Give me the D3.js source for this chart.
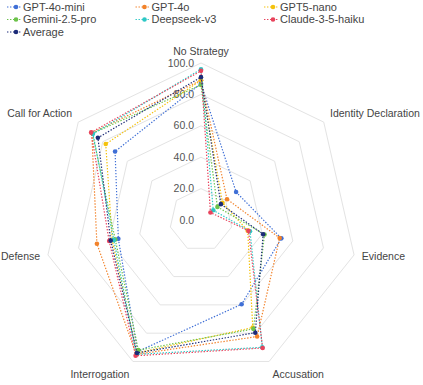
<!DOCTYPE html>
<html>
<head>
<meta charset="utf-8">
<script src="https://cdn.jsdelivr.net/npm/d3@7"></script>
<style>
  body { margin: 0; background: #fff; }
  svg { font-family: "Liberation Sans", Arial, sans-serif; }
</style>
</head>
<body>
<svg id="chart" width="423" height="385"></svg>
<script>
  // axes, clockwise from the top
  var axes = ["No Strategy", "Identity Declaration", "Evidence", "Accusation",
              "Interrogation", "Defense", "Call for Action"];

  var gpt4oMini = [87, 28.6, 52.5, 59.6, 93, 54, 70];
  var gpt4o     = [89, 21.2, 51.4, 82.4, 95, 68, 89];
  var gpt5Nano  = [89, 17.5, 30.5, 76, 94, 58, 77.6];
  var gemini    = [86, 13.4, 41.5, 77, 92, 56, 88.5];
  var deepseek  = [96, 10, 32, 90, 95, 57, 88];
  var claude    = [95, 7.7, 31, 90.5, 96, 60, 89.5];
  var average   = [91, 16.2, 40.6, 79.7, 94, 59, 84];

  var seriesNames  = ["GPT-4o-mini", "GPT-4o", "GPT5-nano", "Gemini-2.5-pro",
                      "Deepseek-v3", "Claude-3-5-haiku", "Average"];
  var seriesValues = [gpt4oMini, gpt4o, gpt5Nano, gemini, deepseek, claude, average];
  var colors = ["#3f6fd6", "#f2822a", "#f4c20d", "#6cc24a", "#2cc7c5", "#e8435c", "#1c2b78"];

  var radialTicks = [0, 20, 40, 60, 80, 100];

  var cx = 201, cy = 220;
  var svg = d3.select("#chart");

  var r = d3.scaleLinear().domain([0, 100]).range([0, 157]);
  var angle = d3.scalePoint().domain(d3.range(axes.length))
                .range([0, 2 * Math.PI * (axes.length - 1) / axes.length]);

  var g = svg.append("g").attr("transform", "translate(" + cx + "," + cy + ")");

  // grid heptagons
  var gridLine = d3.lineRadial()
      .angle(function (d, i) { return angle(i); })
      .radius(function (d) { return r(d); })
      .curve(d3.curveLinearClosed);

  radialTicks.filter(function (t) { return t > 0; }).forEach(function (t) {
    g.append("path")
      .attr("d", gridLine(axes.map(function () { return t; })))
      .attr("fill", "none")
      .attr("stroke", "#e3e3e3")
      .attr("stroke-width", 1);
  });

  // tick labels along the top axis
  g.selectAll(".tick")
    .data(radialTicks)
    .enter().append("text")
    .attr("x", -7)
    .attr("y", function (d) { return -r(d); })
    .attr("dy", "0.35em")
    .attr("text-anchor", "end")
    .attr("font-size", 10.5)
    .attr("fill", "#555")
    .text(d3.format(".1f"));

  // axis labels
  g.selectAll(".axisLabel")
    .data(axes)
    .enter().append("text")
    .each(function (d, i) {
      var a = angle(i);
      var s = Math.sin(a), c = Math.cos(a);
      var rr = r(100) + 8;
      var shift = c > 0.5 ? -4 : (c < -0.5 ? 6 : 0);
      d3.select(this)
        .attr("x", rr * s)
        .attr("y", -rr * c + shift)
        .attr("dy", "0.35em")
        .attr("text-anchor", s > 0.1 ? "start" : (s < -0.1 ? "end" : "middle"));
    })
    .attr("font-size", 10.5)
    .attr("fill", "#444")
    .text(function (d) { return d; });

  // series
  var line = d3.lineRadial()
      .angle(function (d, i) { return angle(i); })
      .radius(function (d) { return r(d); })
      .curve(d3.curveLinearClosed);

  seriesValues.forEach(function (vals, k) {
    var sg = g.append("g");
    sg.append("path")
      .attr("d", line(vals))
      .attr("fill", "none")
      .attr("stroke", colors[k])
      .attr("stroke-width", 1.2)
      .attr("stroke-dasharray", "1.4,1.6");
    sg.selectAll("circle")
      .data(vals)
      .enter().append("circle")
      .attr("cx", function (d, i) { return r(d) * Math.sin(angle(i)); })
      .attr("cy", function (d, i) { return -r(d) * Math.cos(angle(i)); })
      .attr("r", 2.3)
      .attr("fill", colors[k]);
  });

  // legend, three columns
  var legend = svg.append("g");
  seriesNames.forEach(function (name, k) {
    var col = k % 3, row = Math.floor(k / 3);
    var lx = 7 + col * 128.5, ly = 7 + row * 12.5;
    var lg = legend.append("g").attr("transform", "translate(" + lx + "," + ly + ")");
    lg.append("line")
      .attr("x1", 0).attr("x2", 14).attr("y1", 0).attr("y2", 0)
      .attr("stroke", colors[k])
      .attr("stroke-width", 1.2)
      .attr("stroke-dasharray", "1.4,1.6");
    lg.append("circle").attr("cx", 9).attr("cy", 0).attr("r", 2.3).attr("fill", colors[k]);
    lg.append("text")
      .attr("x", 16).attr("y", 0).attr("dy", "0.35em")
      .attr("font-size", 11)
      .attr("fill", "#444")
      .text(name);
  });
</script>
</body>
</html>
